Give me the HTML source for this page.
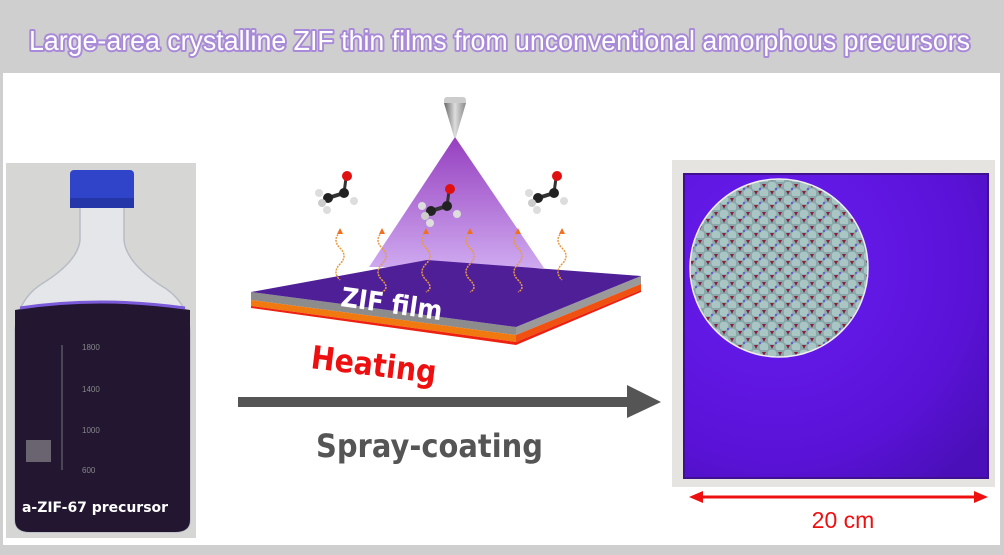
<!DOCTYPE html>
<html><head><meta charset="utf-8"><style>
html,body{margin:0;padding:0;background:#cfcfcf;}
svg{display:block;}
</style></head><body>
<svg width="1004" height="555" viewBox="0 0 1004 555" xmlns="http://www.w3.org/2000/svg">
<defs>
<linearGradient id="cone" x1="0" y1="0" x2="0" y2="1">
<stop offset="0" stop-color="#8a2ab8"/><stop offset="1" stop-color="#c9a0ee"/></linearGradient>
<linearGradient id="noz" x1="0" y1="0" x2="1" y2="0">
<stop offset="0" stop-color="#666"/><stop offset="0.5" stop-color="#ddd"/><stop offset="1" stop-color="#888"/></linearGradient>
<radialGradient id="plate" cx="0.3" cy="0.3" r="0.9">
<stop offset="0" stop-color="#6a1ff0"/><stop offset="0.7" stop-color="#5a12d8"/><stop offset="1" stop-color="#4a0fb8"/></radialGradient>
<pattern id="lat" width="16" height="14" patternUnits="userSpaceOnUse">
<rect width="16" height="14" fill="#8aa8aa"/>
<circle cx="4" cy="4" r="4.5" fill="#a9c6c4"/>
<circle cx="12" cy="11" r="4.5" fill="#a9c6c4"/>
<polygon points="10,2 14,2 12,6" fill="#8a2040"/>
<polygon points="2,9 6,9 4,13" fill="#8a2040"/>
<circle cx="8" cy="7" r="1.2" fill="#6a5ad8"/>
</pattern>
<clipPath id="circ"><circle cx="779" cy="268" r="89"/></clipPath>
</defs>

<rect x="0" y="0" width="1004" height="555" fill="#cfcfcf"/>
<rect x="3" y="73" width="997" height="472" fill="#ffffff"/>

<text x="29" y="50" textLength="941" lengthAdjust="spacingAndGlyphs" font-family="Liberation Sans Narrow, Liberation Sans, sans-serif" font-size="28" fill="#fff" stroke="#a98ad8" stroke-width="4" paint-order="stroke" stroke-linejoin="round">Large-area crystalline ZIF thin films  from unconventional amorphous precursors</text>

<!-- Left photo -->
<rect x="6" y="163" width="190" height="375" fill="#d6d6d4"/>
<path d="M80 205 L80 240 Q78 262 40 285 Q18 300 15 330 L15 520 Q15 532 30 532 L175 532 Q190 532 190 520 L190 330 Q187 300 160 285 Q126 262 124 240 L124 205 Z" fill="#e4e6ea" stroke="#b8bcc4" stroke-width="1.5"/>
<path d="M15 310 Q100 295 190 310 L190 520 Q190 532 175 532 L30 532 Q15 532 15 520 Z" fill="#221630"/>
<path d="M20 308 Q100 296 185 308" stroke="#7a5ad8" stroke-width="3" fill="none"/>
<rect x="70" y="170" width="64" height="38" rx="4" fill="#2f44c8"/>
<rect x="70" y="198" width="64" height="10" fill="#2536a8"/>
<line x1="62" y1="345" x2="62" y2="470" stroke="#777" stroke-width="1"/>
<g font-family="Liberation Sans, sans-serif" font-size="8" fill="#888">
<text x="82" y="350">1800</text><text x="82" y="392">1400</text><text x="82" y="433">1000</text><text x="82" y="473">600</text></g>
<rect x="26" y="440" width="25" height="22" fill="#999" opacity="0.6"/>
<text x="22" y="512" font-family="DejaVu Sans, sans-serif" font-weight="bold" font-size="14" fill="#fff" textLength="146" lengthAdjust="spacingAndGlyphs">a-ZIF-67 precursor</text>

<!-- Spray cone -->
<polygon points="455,137 369,267 544,268" fill="url(#cone)" opacity="0.9"/>
<rect x="444" y="97" width="22" height="8" rx="3" fill="#ccc"/>
<polygon points="444,103 466,103 456,137 454,137" fill="url(#noz)"/>

<!-- Plate -->
<polygon points="251,292 251,300 516,335 516,327" fill="#8c8c8c"/>
<polygon points="516,327 641,276 641,284 516,335" fill="#9a9a9a"/>
<polygon points="251,300 251,306 516,342 516,335" fill="#f07a10"/>
<polygon points="516,335 641,284 641,290 516,342" fill="#f05010"/>
<polygon points="251,306 516,342 641,290 641,292 516,345 251,308" fill="#ee2010"/>
<polygon points="251,292 427,260 641,276 516,327" fill="#4f1f98"/>

<!-- wavy lines -->
<g fill="none" stroke="#e89a40" stroke-width="1.5" stroke-dasharray="2,1">
<path d="M340 232 q-8 8 0 16 q8 8 0 16 q-8 8 0 16"/>
<path d="M382 232 q-8 8 0 16 q8 8 0 16 q-8 8 0 16 q8 8 0 12"/>
<path d="M426 232 q-8 8 0 16 q8 8 0 16 q-8 8 0 16 q8 8 0 12"/>
<path d="M470 232 q-8 8 0 16 q8 8 0 16 q-8 8 0 16 q8 8 0 12"/>
<path d="M518 232 q-8 8 0 16 q8 8 0 16 q-8 8 0 16 q8 8 0 12"/>
<path d="M562 232 q-8 8 0 16 q8 8 0 16 q-8 8 0 16"/>
</g>
<g fill="#f07020"><polygon points="340,228 337,234 343,234"/><polygon points="382,228 379,234 385,234"/><polygon points="426,228 423,234 429,234"/><polygon points="470,228 467,234 473,234"/><polygon points="518,228 515,234 521,234"/><polygon points="562,228 559,234 565,234"/></g>

<!-- molecules -->
<g id="m1">
<line x1="328" y1="198" x2="344" y2="193" stroke="#333" stroke-width="4"/>
<line x1="344" y1="193" x2="346" y2="178" stroke="#333" stroke-width="3"/>
<circle cx="328" cy="198" r="5" fill="#222"/><circle cx="344" cy="193" r="5" fill="#222"/>
<circle cx="347" cy="176" r="5" fill="#e01010"/>
<circle cx="319" cy="193" r="4" fill="#ddd"/><circle cx="327" cy="210" r="4" fill="#ddd"/><circle cx="322" cy="203" r="4" fill="#ccc"/><circle cx="354" cy="201" r="4" fill="#ddd"/>
</g>
<use href="#m1" transform="translate(103,13)"/>
<use href="#m1" transform="translate(210,0)"/>

<text transform="translate(340,306) rotate(8)" font-family="DejaVu Sans, sans-serif" font-weight="bold" font-size="27" fill="#fff" textLength="102" lengthAdjust="spacingAndGlyphs">ZIF film</text>
<text transform="translate(310,368) rotate(7)" font-family="DejaVu Sans, sans-serif" font-weight="bold" font-size="32" fill="#ee1010" textLength="126" lengthAdjust="spacingAndGlyphs">Heating</text>

<!-- arrow -->
<rect x="238" y="397" width="390" height="10" fill="#555"/>
<polygon points="627,385 661,402 627,418" fill="#555"/>
<text x="316" y="457" font-family="DejaVu Sans, sans-serif" font-weight="bold" font-size="32" fill="#555" textLength="227" lengthAdjust="spacingAndGlyphs">Spray-coating</text>

<!-- Right photo -->
<rect x="672" y="160" width="323" height="327" fill="#e6e4e0"/>
<rect x="684" y="174" width="304" height="304" fill="url(#plate)"/>
<rect x="684" y="174" width="304" height="304" fill="none" stroke="#3f1090" stroke-width="2"/>
<g clip-path="url(#circ)"><rect x="680" y="170" width="200" height="200" fill="url(#lat)"/></g>
<circle cx="779" cy="268" r="89" fill="none" stroke="#eee" stroke-width="1.5"/>
<line x1="700" y1="497" x2="978" y2="497" stroke="#ee1010" stroke-width="3"/>
<polygon points="689,497 703,491 703,503" fill="#ee1010"/>
<polygon points="988,497 974,491 974,503" fill="#ee1010"/>
<text x="843" y="528" text-anchor="middle" font-family="Liberation Sans, sans-serif" font-size="23" fill="#ee1010">20 cm</text>
</svg>
</body></html>
